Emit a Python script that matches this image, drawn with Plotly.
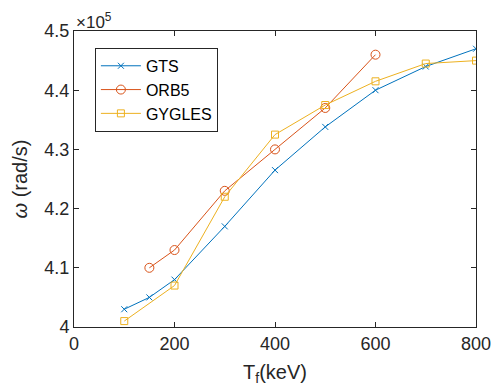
import plotly.graph_objects as go

gts_x = [100, 150, 200, 300, 400, 500, 600, 700, 800]
gts_y = [4.03, 4.05, 4.08, 4.17, 4.265, 4.338, 4.40, 4.44, 4.47]
orb_x = [150, 200, 300, 400, 500, 600]
orb_y = [4.10, 4.13, 4.23, 4.30, 4.37, 4.46]
gyg_x = [100, 200, 300, 400, 500, 600, 700, 800]
gyg_y = [4.01, 4.07, 4.22, 4.325, 4.375, 4.415, 4.445, 4.45]
x_ticks = [0, 200, 400, 600, 800]
y_ticks = [4.0, 4.1, 4.2, 4.3, 4.4, 4.5]
y_labels = ["4", "4.1", "4.2", "4.3", "4.4", "4.5"]

FONT = "Liberation Sans, Arial, Helvetica, sans-serif"

fig = go.Figure()
fig.add_trace(go.Scatter(x=gts_x, y=gts_y, name="GTS", mode="lines+markers",
                         line=dict(color="#0072BD", width=1),
                         marker=dict(symbol="x-thin-open", size=6, color="#0072BD",
                                     line=dict(color="#0072BD", width=1))))
fig.add_trace(go.Scatter(x=orb_x, y=orb_y, name="ORB5", mode="lines+markers",
                         line=dict(color="#D95319", width=1),
                         marker=dict(symbol="circle-open", size=9, color="#D95319",
                                     line=dict(color="#D95319", width=1))))
fig.add_trace(go.Scatter(x=gyg_x, y=gyg_y, name="GYGLES", mode="lines+markers",
                         line=dict(color="#EDB120", width=1),
                         marker=dict(symbol="square-open", size=7, color="#EDB120",
                                     line=dict(color="#EDB120", width=1))))

axis_common = dict(showgrid=False, zeroline=False, showline=True, linecolor="#262626",
                   linewidth=1, mirror="ticks", ticks="inside", ticklen=5,
                   tickcolor="#262626", tickfont=dict(family=FONT, size=18, color="#262626"),
                   automargin=False)

fig.update_layout(
    width=492, height=388,
    margin=dict(l=74, r=16, t=31, b=61),
    paper_bgcolor="white", plot_bgcolor="white",
    font=dict(family=FONT, color="#262626"),
    showlegend=True,
    legend=dict(x=0.052, y=0.943, xanchor="left", yanchor="top",
                bordercolor="#262626", borderwidth=1, bgcolor="white",
                font=dict(family=FONT, size=16, color="#000000"),
                tracegroupgap=0, itemwidth=40),
    xaxis=dict(range=[0, 800], tickvals=x_ticks,
               title=dict(text="T<sub>f</sub>(keV)", font=dict(family=FONT, size=20), standoff=12),
               **axis_common),
    yaxis=dict(range=[4.0, 4.5], tickvals=y_ticks, ticktext=y_labels,
               title=dict(text="<i>ω</i> (rad/s)", font=dict(family=FONT, size=20), standoff=11),
               **axis_common),
)
fig.add_annotation(x=0, y=1, xref="paper", yref="paper", xanchor="left", yanchor="bottom",
                   text="×10<sup>5</sup>", showarrow=False, yshift=-3,
                   font=dict(family=FONT, size=17, color="#262626"))

fig.write_html("out.html")
